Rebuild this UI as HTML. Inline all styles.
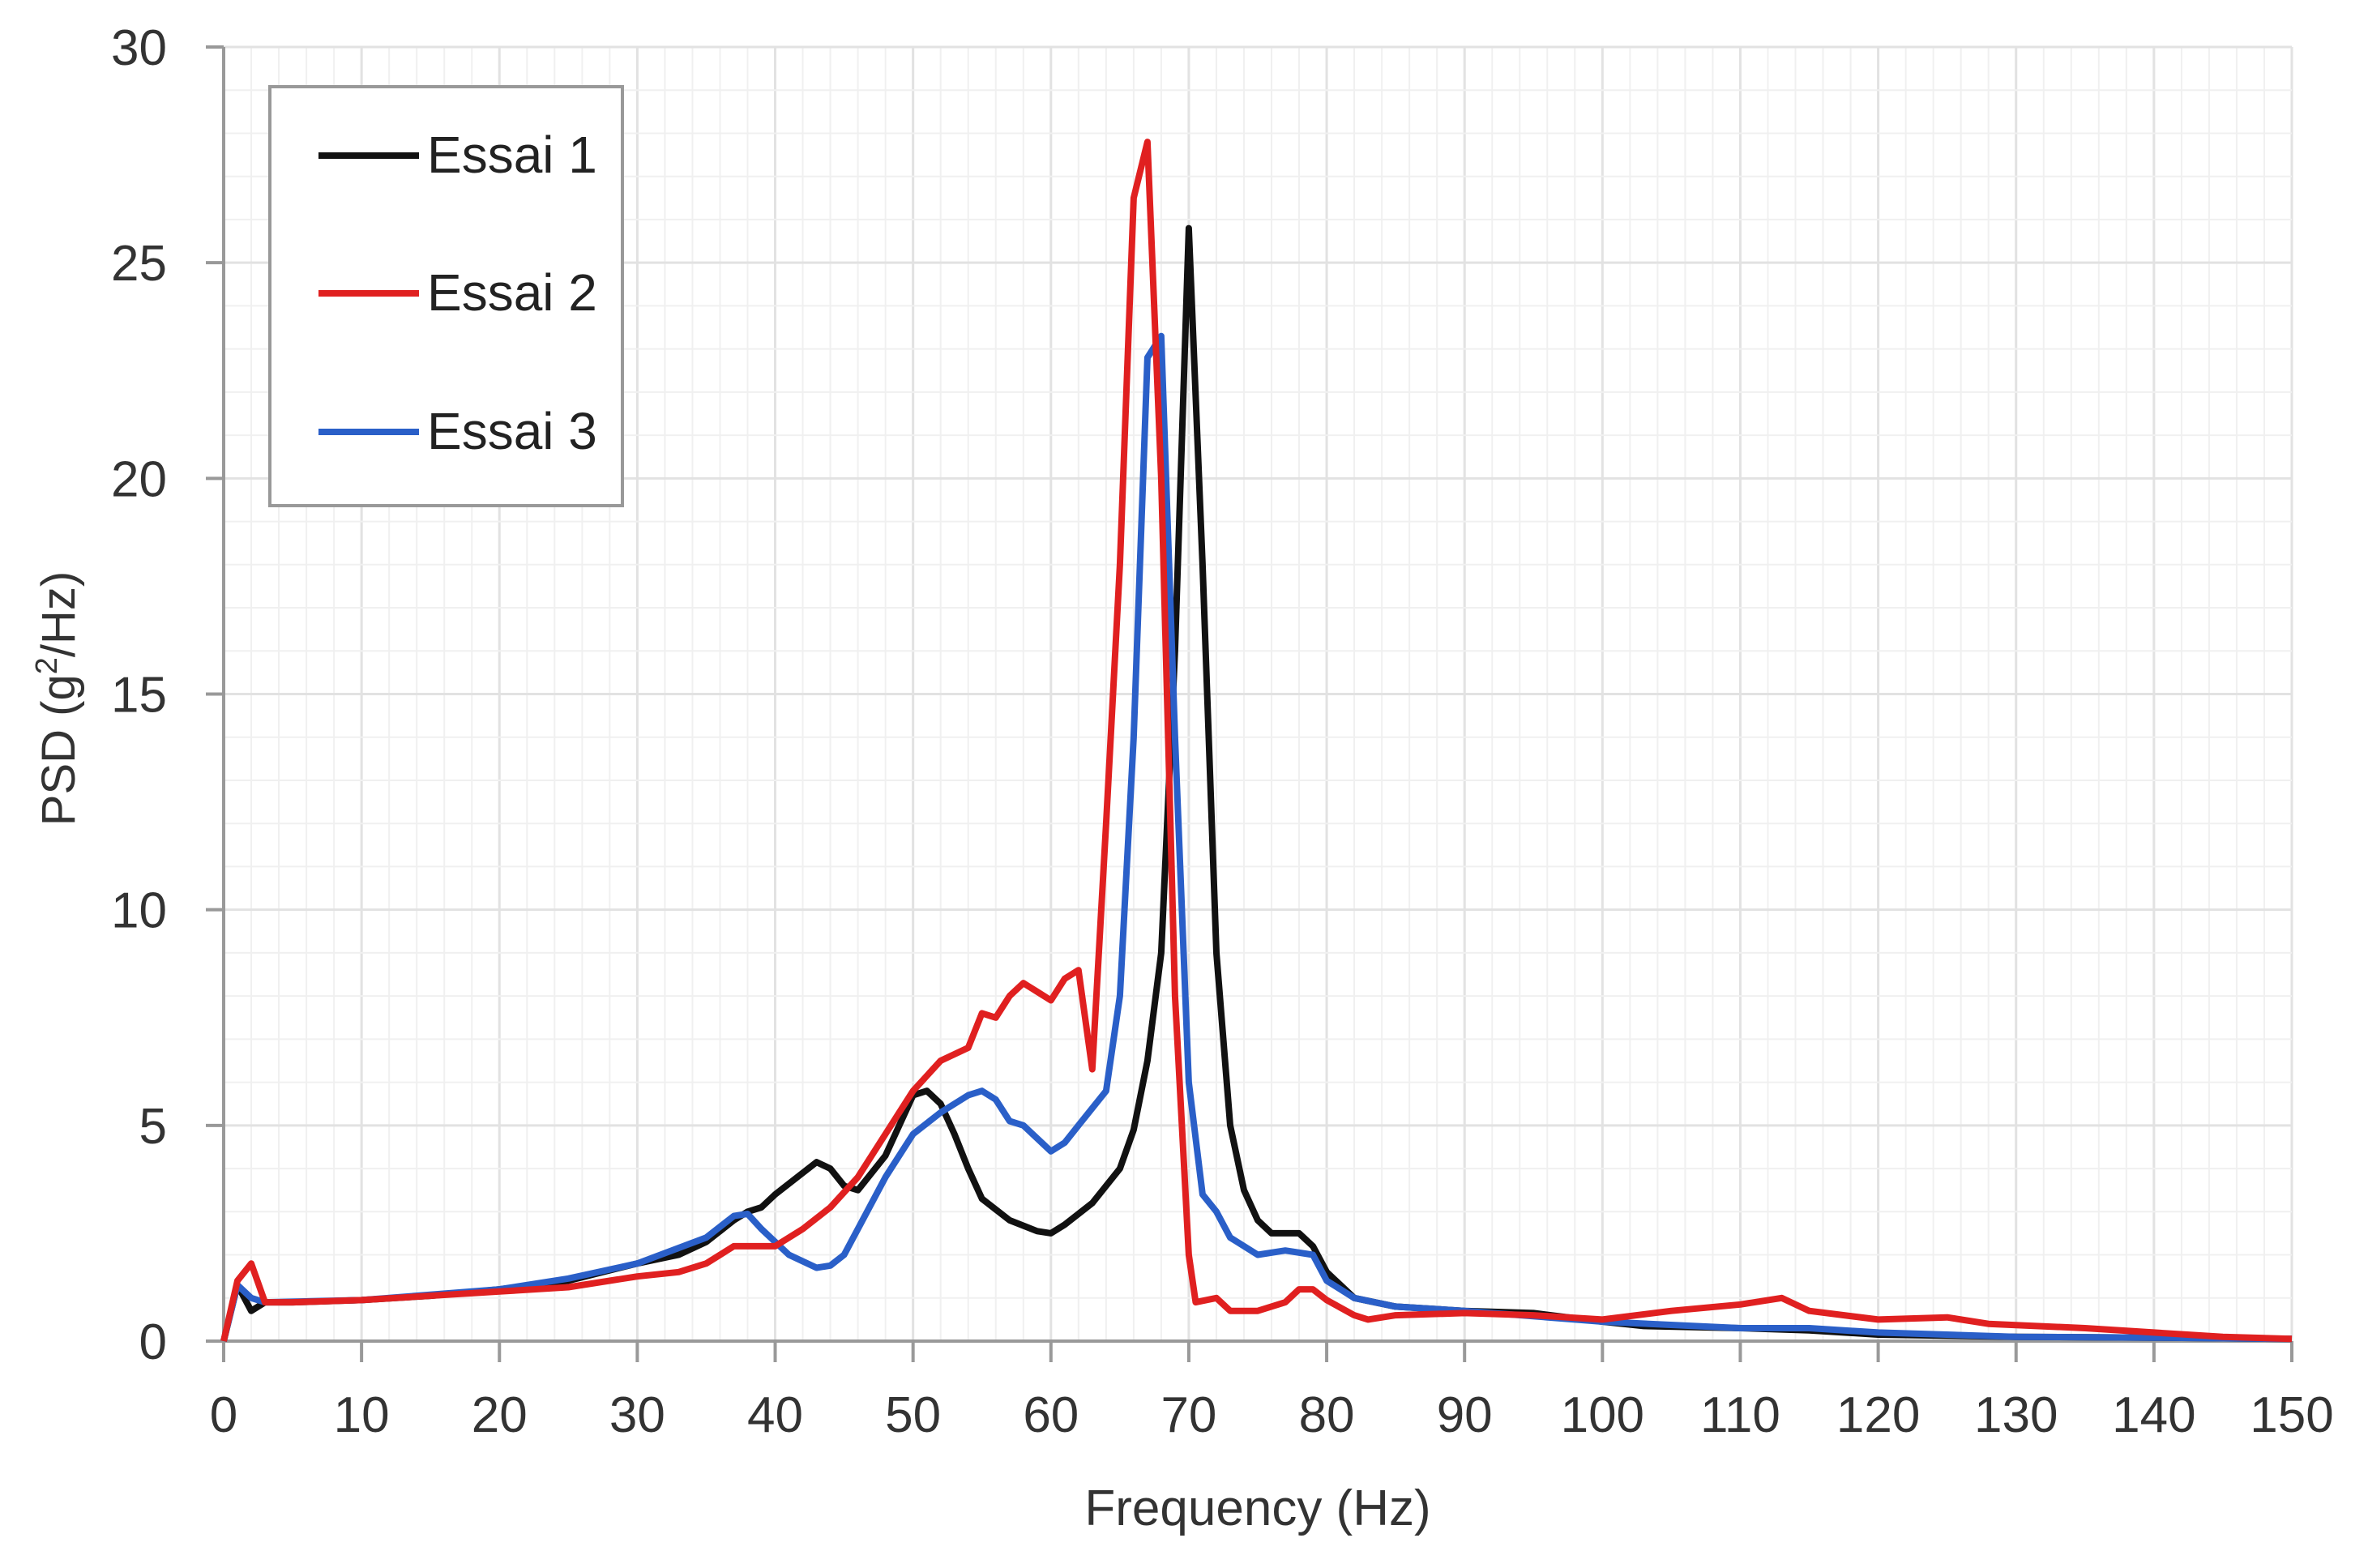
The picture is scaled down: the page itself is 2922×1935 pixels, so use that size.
<!DOCTYPE html>
<html><head><meta charset="utf-8"><style>
html,body{margin:0;padding:0;background:#fff;}
svg{display:block;font-family:"Liberation Sans",sans-serif;}
</style></head><body>
<svg id="chart" width="2922" height="1935" viewBox="0 0 2922 1935" xmlns="http://www.w3.org/2000/svg">
<g id="grid"></g>
<g id="axes"></g>
<g id="series"></g>
<text x="1552" y="1882" font-size="62" text-anchor="middle" fill="#333">Frequency (Hz)</text>
<text transform="translate(92,862) rotate(-90)" font-size="58" text-anchor="middle" fill="#333">PSD (g<tspan font-size="38" dy="-22">2</tspan><tspan dy="22">/Hz)</tspan></text>
<g>
<rect x="333" y="107" width="435" height="517" fill="#fff" stroke="#999" stroke-width="4"/>
<g><line x1="393" y1="192" x2="517" y2="192" stroke="#111" stroke-width="8"/><text x="527" y="213" font-size="64" fill="#222">Essai 1</text></g>
<g><line x1="393" y1="362" x2="517" y2="362" stroke="#e02020" stroke-width="8"/><text x="527" y="383" font-size="64" fill="#222">Essai 2</text></g>
<g><line x1="393" y1="533" x2="517" y2="533" stroke="#2a5fc8" stroke-width="8"/><text x="527" y="554" font-size="64" fill="#222">Essai 3</text></g>
</g>
</svg>
<script>
const xTicks=[0,10,20,30,40,50,60,70,80,90,100,110,120,130,140,150];
const yTicks=[0,5,10,15,20,25,30];
const f1=[0,1,2,3,5,10,15,20,25,30,33,35,37,38,39,40,42,43,44,45,46,48,50,51,52,53,54,55,57,59,60,61,63,65,66,67,68,69,70,71,72,73,74,75,76,78,79,80,82,85,90,95,100,103,110,115,120,130,140,150];
const v1=[0,1.3,0.7,0.9,0.9,0.95,1.05,1.2,1.4,1.8,2.0,2.3,2.8,3.0,3.1,3.4,3.9,4.15,4.0,3.6,3.5,4.3,5.7,5.8,5.5,4.8,4.0,3.3,2.8,2.55,2.5,2.7,3.2,4.0,4.9,6.5,9,16,25.8,18,9,5,3.5,2.8,2.5,2.5,2.2,1.6,1.0,0.8,0.7,0.65,0.45,0.35,0.3,0.25,0.15,0.1,0.08,0.05];
const f2=[0,1,2,3,5,10,20,25,30,33,35,37,40,42,44,46,48,50,52,54,55,56,57,58,59,60,61,62,63,64,65,66,67,68,69,70,70.5,72,73,75,77,78,79,80,82,83,85,90,95,100,105,110,113,115,120,125,128,135,140,145,150];
const v2=[0,1.4,1.8,0.9,0.9,0.95,1.15,1.25,1.5,1.6,1.8,2.2,2.2,2.6,3.1,3.8,4.8,5.8,6.5,6.8,7.6,7.5,8.0,8.3,8.1,7.9,8.4,8.6,6.3,12,18,26.5,27.8,20,8,2,0.9,1.0,0.7,0.7,0.9,1.2,1.2,0.95,0.6,0.5,0.6,0.65,0.6,0.5,0.7,0.85,1.0,0.7,0.5,0.55,0.4,0.3,0.2,0.1,0.05];
const f3=[0,1,2,3,10,20,25,30,35,37,38,39,41,43,44,45,46,48,50,52,54,55,56,57,58,59,60,61,62,64,65,66,67,68,69,70,71,72,73,75,77,79,80,82,85,90,100,110,115,120,130,140,150];
const v3=[0,1.3,1.0,0.9,0.95,1.2,1.45,1.8,2.4,2.9,2.95,2.6,2.0,1.7,1.75,2.0,2.6,3.8,4.8,5.3,5.7,5.8,5.6,5.1,5.0,4.7,4.4,4.6,5.0,5.8,8,14,22.8,23.3,14,6,3.4,3.0,2.4,2.0,2.1,2.0,1.4,1.0,0.8,0.7,0.45,0.3,0.3,0.2,0.1,0.08,0.05];
const NS='http://www.w3.org/2000/svg';
const X0=276,X1=2828,Y0=1655,Y1=58;
const xs=f=>X0+(f/150)*(X1-X0);
const ys=v=>Y0-(v/30)*(Y0-Y1);
function mk(tag,at,parent){const e=document.createElementNS(NS,tag);for(const k in at)e.setAttribute(k,at[k]);parent.appendChild(e);return e;}
const grid=document.getElementById('grid'),axes=document.getElementById('axes'),series=document.getElementById('series');
for(let f=2;f<=150;f+=2){const l=mk('line',{x1:xs(f),y1:Y1,x2:xs(f),y2:Y0,stroke:f%10===0?'#e2e2e2':'#f0f0f0','stroke-width':f%10===0?3:2},grid);

}
for(let v=1;v<=30;v++){const l=mk('line',{x1:X0,y1:ys(v),x2:X1,y2:ys(v),stroke:v%5===0?'#e2e2e2':'#f0f0f0','stroke-width':v%5===0?3:2},grid);

}
const xa=mk('line',{x1:X0-14,y1:Y0,x2:X1,y2:Y0,stroke:'#999','stroke-width':4},axes);


const ya=mk('line',{x1:X0,y1:Y1,x2:X0,y2:Y0+14,stroke:'#999','stroke-width':4},axes);


xTicks.forEach(t=>{const tk=mk('line',{x1:xs(t),y1:Y0,x2:xs(t),y2:Y0+26,stroke:'#999','stroke-width':4},axes);


const tx=mk('text',{x:xs(t),y:Y0+112,'font-size':62,'text-anchor':'middle',fill:'#333'},axes);tx.textContent=t;

});
yTicks.forEach(t=>{const tk=mk('line',{x1:X0-22,y1:ys(t),x2:X0,y2:ys(t),stroke:'#999','stroke-width':4},axes);


const tx=mk('text',{x:206,y:ys(t)+22,'font-size':62,'text-anchor':'end',fill:'#333'},axes);tx.textContent=t;

});
function drawLine(fa,va,col,name){const d=fa.map((f,i)=>(i?'L':'M')+xs(f).toFixed(1)+' '+ys(va[i]).toFixed(1)).join(' ');
const p=mk('path',{d:d,fill:'none',stroke:col,'stroke-width':8,'stroke-linejoin':'round'},series);

}
drawLine(f1,v1,'#111','line-essai-1');
drawLine(f3,v3,'#2a5fc8','line-essai-3');
drawLine(f2,v2,'#e02020','line-essai-2');
</script>
</body></html>
